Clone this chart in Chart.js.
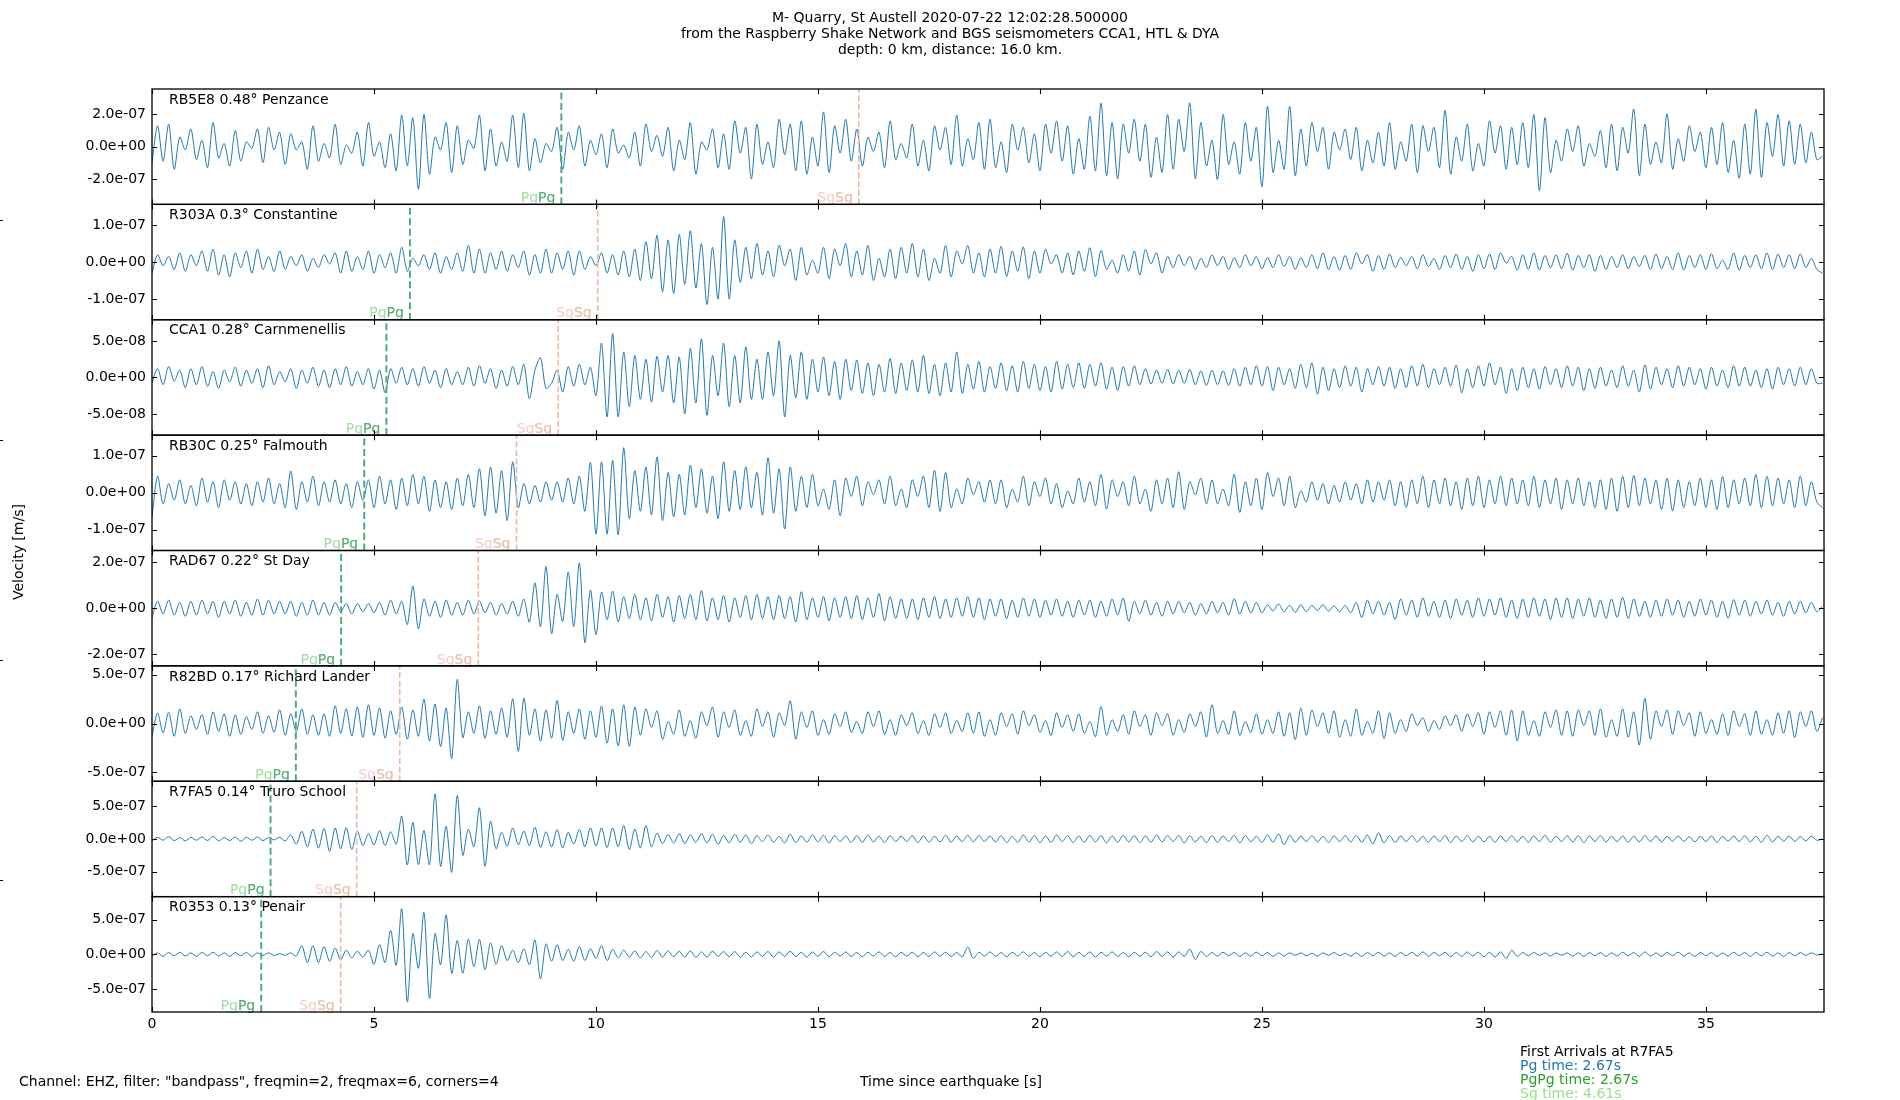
<!DOCTYPE html>
<html>
<head>
<meta charset="utf-8">
<script src="https://cdn.jsdelivr.net/npm/chart.js@4.4.1/dist/chart.umd.min.js"></script>
<style>
  body { margin: 0; background: #fff; font-family: "DejaVu Sans", sans-serif; font-size: 14px; color: #000; }
  #wrap { position: relative; width: 1900px; height: 1100px; overflow: hidden; }
  canvas { position: absolute; left: 0; top: 0; }
  .txt { position: absolute; white-space: pre; line-height: 16px; }
</style>
</head>
<body>
<div id="wrap">
  <canvas id="seis" width="1900" height="1100"></canvas>
  <div class="txt" style="left:0;top:9px;width:1900px;text-align:center;">M- Quarry, St Austell 2020-07-22 12:02:28.500000
from the Raspberry Shake Network and BGS seismometers CCA1, HTL &amp; DYA
depth: 0 km, distance: 16.0 km.</div>
  <div class="txt" style="left:19px;top:1073px;">Channel: EHZ, filter: "bandpass", freqmin=2, freqmax=6, corners=4</div>
  <div class="txt" style="left:0;top:1073px;width:1902px;text-align:center;">Time since earthquake [s]</div>
  <div class="txt" style="left:1520px;top:1044px;line-height:14px;">First Arrivals at R7FA5
<span style="color:#1f77b4">Pg time: 2.67s</span>
<span style="color:#2ca02c">PgPg time: 2.67s</span>
<span style="color:#98df8a">Sg time: 4.61s</span></div>
  <div class="txt" style="left:18px;top:552px;transform:translate(-50%,-50%) rotate(-90deg);">Velocity [m/s]</div>
</div>
<script>
// sample spacing of the traces (s) and unit of the values (nm/s -> m/s)
const DT = 0.125;
const NM = 1e-9;
const XMAX = 37.66;
const xTicks = [0, 5, 10, 15, 20, 25, 30, 35];

const stations = ['RB5E8 0.48° Penzance', 'R303A 0.3° Constantine', 'CCA1 0.28° Carnmenellis',
  'RB30C 0.25° Falmouth', 'RAD67 0.22° St Day', 'R82BD 0.17° Richard Lander',
  'R7FA5 0.14° Truro School', 'R0353 0.13° Penair'];
// y limits and tick step per panel, nm/s
const lims = [358, 156, 79, 156, 250, 590, 880, 830];
const steps = [200, 100, 50, 100, 200, 500, 500, 500];
// phase arrival times per panel, s
const pgTimes = [9.22, 5.81, 5.28, 4.78, 4.26, 3.24, 2.67, 2.46];
const sgTimes = [15.92, 10.04, 9.15, 8.21, 7.35, 5.58, 4.61, 4.25];

// traces, nm/s, one row per second
const penzance = [
  -100, 130, -90, 140, -140, 60, -20, 110,
  -80, 40, -130, 150, -70, 20, -120, 100,
  -90, 30, -10, 110, -100, 120, -20, 90,
  -110, 80, -20, 30, -140, 130, -90, 20,
  -70, 140, -110, 10, -40, 90, -120, 150,
  -60, 30, -130, 80, -150, 196, -120, 180,
  -264, 200, -170, 60, -20, 150, -160, 130,
  -110, 40, -10, 196, -150, 110, -120, 30,
  -90, 196, -130, 208, -150, 50, -100, 20,
  -30, 120, -140, 90, -20, 130, -120, 40,
  -50, 80, -130, 110, -40, 10, -70, 90,
  -120, 140, -30, 70, -60, 120, -150, 40,
  -80, 150, -170, 30, -20, 110, -130, 80,
  -140, 160, -40, 120, -200, 140, -110, 30,
  -130, 170, -50, 140, -150, 160, -170, 60,
  -120, 216, -160, 130, -40, 170, -90, 110,
  -120, 60, -30, 90, -130, 160, -80, 20,
  -70, 140, -120, 40, -150, 130, -20, 120,
  -110, 196, -120, 50, -80, 150, -140, 170,
  -130, 30, -160, 140, -20, 120, -100, 80,
  -150, 140, -40, 160, -90, 130, -170, 50,
  -140, 190, -150, 270, -180, 150, -200, 140,
  -40, 170, -90, 140, -190, 60, -160, 200,
  -140, 170, -30, 272, -200, 150, -120, 40,
  -204, 200, -110, 30, -170, 150, -90, 120,
  -250, 250, -160, 40, -140, 250, -180, 110,
  -120, 150, -30, 120, -140, 90, -20, 110,
  -80, 120, -150, 40, -100, 90, -120, 150,
  -140, 30, -90, 140, -160, 130, -30, 120,
  -130, 226, -170, 60, -90, 140, -150, 20,
  -120, 160, -40, 130, -140, 120, -110, 150,
  -130, 200, -272, 180, -160, 40, -90, 110,
  -30, 130, -120, 20, -60, 100, -130, 140,
  -150, 120, -40, 234, -180, 140, -110, 30,
  -100, 204, -140, 50, -90, 130, -30, 90,
  -130, 120, -110, 150, -160, 40, -196, 140,
  -170, 234, -190, 150, -60, 200, -120, 160,
  -110, 140, -100, 90, -80, -60
];
const constantine = [
  -30, 20, -10, 15, -20, 25, -25, 20,
  -10, 30, -25, 35, -35, 20, -40, 25,
  -15, 30, -30, 35, -20, 15, -25, 30,
  -20, 15, -10, 20, -25, 10, -15, 20,
  -5, 25, -30, 30, -25, 15, -20, 30,
  -30, 20, -15, 25, -30, 40, -25, 10,
  -10, 20, -20, 25, -30, 15, -20, 25,
  -25, 45, -30, 35, -30, 25, -20, 30,
  -25, 20, -15, 30, -35, 20, -30, 35,
  -30, 25, -20, 30, -35, 30, -20, 15,
  -10, 25, -30, 20, -35, 30, -40, 35,
  -50, 55, -45, 72, -80, 60, -85, 75,
  -60, 85, -70, 50, -115, 40, -100, 123,
  -100, 60, -55, 40, -45, 50, -35, 30,
  -40, 45, -10, 35, -50, 40, -35, 5,
  -30, 40, -45, 35, -10, 50, -40, 30,
  -35, 45, -50, 10, -40, 35, -45, 40,
  -30, 50, -40, 35, -50, 10, -30, 45,
  -40, 30, -5, 45, -30, 25, -40, 35,
  -30, 43, -39, 30, -25, 41, -45, 30,
  -30, 35, -5, 20, -30, 25, -35, 30,
  -25, 39, -39, 31, -20, 5, -30, 20,
  -25, 30, -35, 34, -5, 25, -30, 15,
  -15, 20, -10, 15, -20, 10, -15, 20,
  -10, 15, -20, 12, -15, 20, -10, 15,
  -18, 12, -15, 20, -12, 15, -20, 12,
  -15, 20, -18, 25, -20, 15, -22, 18,
  -20, 25, -5, 20, -25, 18, -20, 22,
  -15, 12, -10, 15, -18, 20, -12, 10,
  -20, 18, -15, 22, -20, 15, -25, 20,
  -18, 22, -20, 25, -3, 15, -22, 20,
  -20, 25, -22, 18, -15, 20, -18, 24,
  -22, 18, -15, 20, -25, 18, -20, 15,
  -15, 20, -18, 15, -12, 18, -20, 22,
  -18, 15, -20, 25, -22, 18, -15, 20,
  -20, 22, -18, 5, -20, 25, -22, 18,
  -15, 20, -18, 25, -20, 22, -15, 20,
  -18, 22, -15, 10, -20, -30
];
const carnmenellis = [
  -8, 12, -10, 15, -5, 10, -14, 12,
  -10, 15, -12, 8, -15, 10, -6, 14,
  -12, 10, -8, 12, -14, 16, -10, 8,
  -6, 12, -15, 10, -8, 14, -12, 10,
  -14, 12, -10, 15, -12, 8, -10, 12,
  -16, 10, -21, 12, -8, 14, -10, 12,
  -12, 15, -8, 10, -14, 12, -10, 8,
  -10, 14, -12, 16, -8, 12, -15, 10,
  -12, 15, -10, 18, -29, 10, 27, -15,
  -8, 10, -20, 15, -12, 18, -10, 14,
  -25, 47, -54, 60, -54, 35, -40, 30,
  -30, 25, -34, 29, -20, 30, -35, 28,
  -50, 40, -35, 53, -52, 30, -25, 47,
  -40, 30, -35, 42, -30, 25, -30, 35,
  -25, 50, -54, 30, -28, 35, -30, 25,
  -20, 28, -25, 22, -30, 25, -18, 24,
  -22, 20, -25, 18, -20, 26, -22, 20,
  -18, 24, -20, 30, -22, 18, -25, 20,
  -20, 35, -22, 18, -16, 22, -20, 15,
  -15, 20, -18, 16, -20, 22, -15, 18,
  -18, 15, -20, 22, -16, 18, -14, 20,
  -15, 18, -12, 20, -16, 14, -18, 15,
  -12, 16, -10, 12, -9, 10, -8, 11,
  -9, 10, -8, 11, -10, 9, -11, 10,
  -10, 9, -11, 12, -12, 14, -10, 16,
  -12, 15, -18, 14, -10, 12, -15, 18,
  -14, 20, -23, 14, -18, 12, -14, 16,
  -12, 14, -20, 12, -10, 15, -12, 14,
  -15, 12, -14, 16, -12, 18, -14, 12,
  -10, 14, -12, 17, -21, 12, -14, 16,
  -12, 20, -10, 14, -22, 12, -18, 14,
  -14, 12, -16, 15, -10, 12, -14, 16,
  -12, 14, -18, 12, -15, 14, -12, 10,
  -14, 16, -12, 10, -20, 17, -16, 14,
  -10, 12, -14, 16, -12, 14, -10, 12,
  -16, 14, -12, 10, -14, 16, -12, 14,
  -12, 10, -14, 12, -16, 14, -10, 12,
  -12, 14, -10, 12, -8, -8
];
const falmouth = [
  -66, 45, -30, 25, -20, 35, -30, 20,
  -35, 40, -25, 30, -40, 35, -20, 30,
  -30, 25, -35, 30, -25, 40, -30, 25,
  -40, 59, -45, 30, -25, 45, -35, 30,
  -25, 35, -30, 25, -40, 30, -20, 35,
  -40, 45, -30, 35, -45, 40, -35, 50,
  -30, 45, -50, 35, -40, 30, -45, 40,
  -35, 50, -40, 65, -62, 70, -55, 60,
  -75, 84, -40, 25, -30, 20, -25, 30,
  -20, 30, -25, 40, -30, 45, -50, 82,
  -112, 84, -112, 88, -114, 122, -70, 60,
  -50, 70, -60, 97, -75, 55, -65, 50,
  -60, 75, -40, 65, -55, 45, -70, 84,
  -50, 60, -45, 70, -40, 55, -60, 95,
  -55, 65, -98, 70, -50, 45, -40, 50,
  -35, 10, -45, 35, -62, 40, -10, 45,
  -35, 30, -5, 35, -30, 45, -35, 10,
  -40, 35, -10, 45, -40, 61, -50, 55,
  -40, 10, -30, 40, -5, 30, -25, 35,
  -30, 35, -40, 10, -25, 45, -35, 30,
  -10, 40, -30, 25, -40, 5, -30, 40,
  -25, 30, -35, 50, -44, 35, -10, 30,
  -35, 45, -30, 10, -50, 35, -30, 40,
  -40, 57, -45, 30, -5, 40, -30, 35,
  -30, 10, -35, 50, -53, 30, -35, 40,
  -45, 55, -10, 40, -35, 45, -40, 5,
  -25, 30, -20, 25, -30, 20, -25, 30,
  -20, 25, -30, 35, -25, 30, -20, 35,
  -35, 30, -40, 35, -30, 45, -40, 35,
  -30, 40, -35, 30, -45, 40, -35, 45,
  -40, 35, -30, 45, -35, 40, -30, 35,
  -35, 45, -40, 35, -30, 40, -45, 35,
  -30, 40, -35, 30, -40, 35, -45, 40,
  -50, 45, -40, 47, -35, 40, -30, 35,
  -45, 40, -49, 35, -40, 30, -35, 40,
  -40, 35, -45, 44, -40, 35, -30, 40,
  -35, 50, -40, 45, -35, 40, -30, 35,
  -40, 45, -35, 30, -25, -40
];
const stDay = [
  -40, 30, -25, 35, -30, 25, -35, 30,
  -30, 35, -25, 30, -40, 30, -25, 35,
  -35, 25, -30, 40, -30, 35, -25, 30,
  -25, 30, -35, 25, -30, 35, -30, 25,
  -30, 25, -15, 20, -25, 20, -15, 20,
  -20, 25, -30, 35, -25, 30, -71, 96,
  -90, 40, -35, 30, -40, 35, -30, 25,
  -30, 35, -25, 30, -20, 25, -30, 20,
  -25, 30, -35, 40, -60, 110, -80, 181,
  -111, 60, -57, 157, -80, 196, -150, 79,
  -114, 70, -50, 74, -60, 50, -45, 60,
  -50, 45, -55, 60, -40, 50, -60, 55,
  -45, 60, -50, 76, -55, 45, -50, 55,
  -60, 45, -40, 55, -50, 60, -45, 50,
  -50, 55, -45, 50, -60, 71, -50, 45,
  -40, 50, -55, 45, -40, 50, -45, 55,
  -50, 45, -40, 63, -55, 50, -45, 40,
  -45, 40, -50, 45, -40, 50, -45, 40,
  -40, 45, -35, 50, -40, 45, -50, 40,
  -35, 40, -45, 35, -40, 45, -35, 40,
  -40, 35, -30, 40, -35, 30, -40, 35,
  -30, 35, -40, 30, -35, 40, -30, 44,
  -56, 30, -25, 35, -30, 25, -35, 30,
  -25, 30, -20, 25, -30, 20, -25, 30,
  -20, 25, -30, 41, -25, 30, -20, 25,
  -20, 15, -12, 18, -15, 12, -18, 15,
  -15, 12, -10, 15, -12, 10, -15, 12,
  -20, 25, -41, 35, -25, 30, -30, 25,
  -49, 40, -30, 35, -40, 45, -35, 30,
  -40, 35, -45, 40, -30, 35, -40, 45,
  -35, 40, -30, 45, -40, 35, -45, 40,
  -40, 45, -35, 40, -49, 44, -40, 45,
  -45, 40, -35, 45, -40, 35, -45, 40,
  -40, 47, -45, 40, -35, 30, -40, 35,
  -35, 40, -30, 35, -40, 30, -35, 40,
  -30, 35, -40, 30, -44, 37, -30, 35,
  -35, 30, -25, 35, -30, 25, -35, 30,
  -25, 30, -20, 25, -15, 10
];
const richardLander = [
  -128, 108, -95, 115, -130, 149, -100, 80,
  -60, 90, -110, 120, -80, 100, -130, 90,
  -110, 70, -60, 120, -100, 80, -90, 140,
  -120, 100, -80, 150, -110, 90, -120, 100,
  -130, 182, -100, 150, -128, 170, -140, 192,
  -120, 160, -150, 130, -110, 170, -160, 140,
  -130, 250, -180, 200, -236, 159, -358, 453,
  -145, 120, -100, 180, -150, 130, -110, 160,
  -140, 253, -284, 260, -120, 150, -180, 140,
  -150, 236, -170, 120, -100, 150, -160, 130,
  -140, 180, -200, 150, -230, 192, -233, 170,
  -120, 150, -40, 130, -160, 20, -110, 140,
  -130, 30, -150, 120, -20, 169, -140, 120,
  -40, 140, -120, 30, -130, 150, -30, 120,
  -140, 110, -20, 233, -160, 120, -40, 130,
  -120, 40, -110, 100, -30, 120, -90, 20,
  -100, 120, -30, 130, -110, 40, -120, 90,
  -20, 110, -100, 30, -120, 100, -40, 110,
  -100, 30, -80, 110, -100, 120, -130, 40,
  -120, 110, -30, 100, -110, 130, -20, 90,
  -90, 30, -120, 110, -40, 90, -80, 100,
  -100, 20, -134, 175, -120, 40, -80, 90,
  -110, 130, -30, 90, -120, 110, -20, 100,
  -120, 40, -90, 100, -30, 120, -137, 192,
  -100, 30, -110, 130, -120, 20, -90, 100,
  -110, 40, -100, 120, -130, 110, -164, 158,
  -120, 140, -30, 110, -100, 130, -140, 40,
  -130, 150, -120, 20, -100, 130, -154, 110,
  -100, 40, -80, 100, -20, 60, -80, 30,
  -60, 80, -20, 90, -80, 100, -30, 110,
  -110, 120, -40, 130, -120, 140, -178, 130,
  -120, 30, -130, 120, -40, 140, -120, 130,
  -130, 140, -20, 130, -120, 150, -140, 40,
  -130, 150, -140, 120, -219, 257, -160, 130,
  -30, 140, -110, 130, -20, 110, -130, 120,
  -100, 40, -110, 100, -120, 130, -30, 100,
  -120, 130, -110, 40, -120, 110, -100, 130,
  -144, 120, -30, 130, -80, 60
];
const truroSchool = [
  -30, 25, -20, 35, -25, 20, -30, 25,
  -20, 30, -25, 40, -30, 20, -25, 30,
  -35, 25, -20, 30, -25, 20, -15, 25,
  -30, 60, -80, 117, -120, 150, -140, 160,
  -189, 168, -150, 173, -160, 120, -100, 80,
  -90, 128, -100, 110, -80, 347, -398, 255,
  -393, 130, -393, 689, -418, 194, -510, 663,
  -250, 150, -120, 475, -418, 270, -150, 100,
  -112, 168, -90, 120, -100, 179, -130, 110,
  -120, 143, -138, 100, -80, 143, -120, 168,
  -110, 168, -130, 168, -120, 204, -163, 150,
  -138, 204, -120, 90, -70, 66, -60, 80,
  -70, 60, -50, 80, -60, 70, -80, 50,
  -60, 70, -50, 60, -70, 50, -40, 60,
  -50, 40, -60, 70, -55, 45, -50, 60,
  -45, 55, -60, 50, -40, 45, -55, 50,
  -50, 60, -45, 40, -55, 50, -40, 45,
  -40, 50, -55, 45, -50, 40, -45, 55,
  -50, 45, -40, 55, -45, 50, -40, 45,
  -45, 50, -55, 40, -50, 60, -45, 50,
  -55, 45, -50, 60, -40, 50, -55, 45,
  -50, 55, -45, 50, -60, 45, -50, 55,
  -45, 50, -55, 45, -50, 60, -45, 50,
  -40, 55, -60, 50, -45, 40, -55, 50,
  -50, 45, -40, 55, -60, 50, -45, 40,
  -55, 60, -50, 77, -87, 55, -50, 45,
  -40, 50, -45, 40, -55, 45, -40, 50,
  -45, 55, -50, 60, -77, 92, -60, 50,
  -50, 45, -40, 50, -45, 40, -50, 45,
  -40, 50, -55, 45, -40, 50, -45, 40,
  -45, 40, -50, 45, -40, 50, -45, 40,
  -50, 45, -40, 55, -50, 45, -40, 50,
  -45, 50, -55, 45, -40, 50, -45, 40,
  -40, 45, -50, 40, -45, 50, -40, 45,
  -45, 40, -35, 45, -40, 35, -45, 40,
  -40, 45, -50, 40, -35, 45, -40, 50,
  -45, 40, -50, 55, -45, 40, -35, 45,
  -40, 35, -30, 40, -20, 0
];
const penair = [
  -25, 20, -30, 25, -20, 30, -25, 20,
  -30, 25, -20, 30, -25, 20, -30, 25,
  -20, 25, -30, 20, -15, 20, -15, 10,
  -15, 20, -25, 124, -119, 124, -119, 110,
  -100, 90, -80, 60, -50, 45, -40, 60,
  -144, 139, -119, 345, -160, 655, -686, 300,
  -200, 603, -634, 300, -150, 567, -273, 200,
  -273, 216, -180, 216, -222, 165, -144, 124,
  -90, 60, -120, 80, -150, 206, -350, 150,
  -100, 139, -90, 70, -100, 113, -90, 80,
  -60, 124, -90, 70, -50, 60, -40, 50,
  -50, 40, -45, 55, -40, 50, -35, 45,
  -40, 50, -45, 35, -40, 45, -30, 40,
  -35, 40, -45, 30, -40, 35, -30, 40,
  -40, 35, -30, 45, -35, 30, -40, 35,
  -30, 40, -35, 30, -25, 35, -30, 25,
  -35, 30, -25, 35, -30, 25, -35, 30,
  -25, 30, -35, 25, -30, 35, -25, 30,
  -30, 25, -35, 103, -60, 30, -25, 35,
  -30, 25, -35, 30, -25, 35, -30, 25,
  -35, 30, -25, 35, -30, 40, -35, 30,
  -30, 35, -40, 30, -25, 35, -30, 25,
  -35, 30, -25, 30, -35, 40, -30, 35,
  -40, 35, -30, 74, -74, 40, -30, 25,
  -25, 30, -20, 25, -30, 20, -25, 30,
  -20, 25, -30, 20, -25, 20, -15, 20,
  -20, 15, -25, 20, -15, 25, -20, 15,
  -25, 20, -30, 25, -20, 30, -25, 20,
  -30, 25, -20, 30, -25, 35, -30, 25,
  -20, 30, -35, 25, -30, 35, -25, 30,
  -35, 30, -40, 35, -59, 59, -30, 25,
  -20, 25, -15, 20, -25, 20, -15, 20,
  -25, 20, -30, 25, -20, 25, -30, 20,
  -25, 30, -20, 25, -30, 35, -25, 20,
  -30, 25, -20, 30, -25, 20, -30, 25,
  -20, 25, -30, 20, -25, 30, -20, 25,
  -30, 25, -20, 30, -25, 20, -30, 25,
  -20, 25, -15, 20, -10, 5
];
const traces = [penzance, constantine, carnmenellis, falmouth, stDay, richardLander, truroSchool, penair];

const FONT = { family: 'DejaVu Sans', size: 14 };

function sci(v) {
  return v.toExponential(1).replace(/e([+-])(\d)$/, 'e$10$2');
}

const datasets = [];
traces.forEach(function (tr, i) {
  datasets.push({
    data: tr.map(function (v, k) { return { x: k * DT, y: v * NM }; }),
    yAxisID: 'y' + i, borderColor: '#1f77b4', borderWidth: 1,
    pointRadius: 0, tension: 0.3, order: 3
  });
  datasets.push({
    data: [{ x: sgTimes[i], y: -lims[i] * NM }, { x: sgTimes[i], y: lims[i] * NM }],
    yAxisID: 'y' + i, borderColor: '#eab9a1', borderWidth: 1.6, borderDash: [6, 2.6],
    pointRadius: 0, order: 2
  });
  datasets.push({
    data: [{ x: pgTimes[i], y: -lims[i] * NM }, { x: pgTimes[i], y: lims[i] * NM }],
    yAxisID: 'y' + i, borderColor: '#4dab78', borderWidth: 2, borderDash: [7, 3.5],
    pointRadius: 0, order: 1
  });
});

const scales = {
  x: {
    type: 'linear', min: 0, max: XMAX,
    grid: { display: false, drawTicks: false }, border: { display: false },
    afterBuildTicks: function (s) { s.ticks = xTicks.map(function (v) { return { value: v }; }); },
    afterFit: function (s) { s.height = 30; },
    ticks: { font: FONT, color: '#000', padding: 4, maxRotation: 0, autoSkip: false }
  }
};
stations.forEach(function (name, i) {
  scales['y' + i] = {
    type: 'linear', position: 'left', stack: 'panels', stackWeight: 1, weight: 8 - i,
    min: -lims[i] * NM, max: lims[i] * NM,
    grid: { display: false, drawTicks: false }, border: { display: false },
    afterBuildTicks: function (s) {
      s.ticks = [steps[i], 0, -steps[i]].map(function (v) { return { value: v * NM }; });
    },
    afterFit: function (s) { s.width = 100; },
    ticks: { font: FONT, color: '#000', padding: 6, autoSkip: false, callback: function (v) { return sci(v); } }
  };
});

// frames, inward ticks, station names and phase labels
const panelDecor = {
  id: 'panelDecor',
  afterDatasetsDraw: function (chart) {
    const ctx = chart.ctx, area = chart.chartArea, xs = chart.scales.x;
    ctx.save();
    ctx.font = '14px "DejaVu Sans"';
    stations.forEach(function (name, i) {
      const ys = chart.scales['y' + i];
      const top = ys.top, bot = ys.bottom;
      // phase labels
      ctx.textAlign = 'right';
      ctx.textBaseline = 'bottom';
      const xp = xs.getPixelForValue(pgTimes[i]) - 6;
      ctx.fillStyle = '#a3d9a3'; ctx.fillText('PgPg', xp, bot + 1);
      ctx.fillStyle = '#5aae7a'; ctx.fillText('Pg', xp, bot + 1);
      const xsg = xs.getPixelForValue(sgTimes[i]) - 6;
      ctx.fillStyle = '#f9c8c8'; ctx.fillText('SgSg', xsg, bot + 1);
      ctx.fillStyle = '#e8c2a8'; ctx.fillText('Sg', xsg, bot + 1);
      // station label
      ctx.fillStyle = '#000';
      ctx.textAlign = 'left';
      ctx.textBaseline = 'middle';
      ctx.fillText(name, area.left + 17, top + 11);
      // ticks pointing inwards
      ctx.strokeStyle = '#000';
      ctx.lineWidth = 1.1;
      ctx.beginPath();
      xTicks.forEach(function (v) {
        const px = Math.round(xs.getPixelForValue(v)) + 0.5;
        ctx.moveTo(px, top); ctx.lineTo(px, top + 5);
        ctx.moveTo(px, bot); ctx.lineTo(px, bot - 5);
      });
      ys.ticks.forEach(function (t) {
        const py = Math.round(ys.getPixelForValue(t.value)) + 0.5;
        ctx.moveTo(area.left, py); ctx.lineTo(area.left + 5, py);
        ctx.moveTo(area.right, py); ctx.lineTo(area.right - 5, py);
      });
      ctx.stroke();
      // frame
      ctx.lineWidth = 1.3;
      ctx.strokeRect(area.left, top, area.right - area.left, bot - top);
    });
    // stray ticks of the full-figure axes at the left edge
    ctx.lineWidth = 1.1;
    ctx.beginPath();
    [220, 440, 660, 880].forEach(function (py) { ctx.moveTo(0, py + 0.5); ctx.lineTo(3, py + 0.5); });
    ctx.stroke();
    ctx.restore();
  }
};

new Chart(document.getElementById('seis'), {
  type: 'line',
  data: { datasets: datasets },
  options: {
    responsive: false,
    animation: false,
    devicePixelRatio: 1,
    events: [],
    layout: { padding: { left: 52, right: 76, top: 89, bottom: 58 } },
    plugins: { legend: { display: false }, tooltip: { enabled: false }, title: { display: false } },
    scales: scales
  },
  plugins: [panelDecor]
});
</script>
</body>
</html>
